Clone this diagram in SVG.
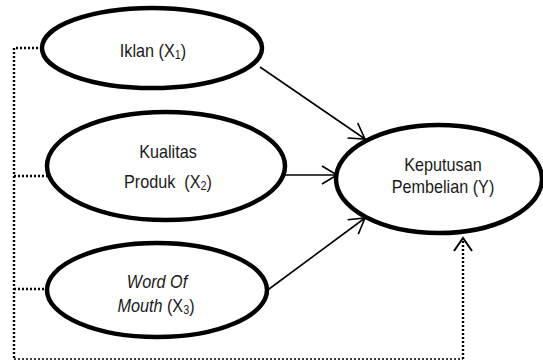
<svg xmlns="http://www.w3.org/2000/svg" width="543" height="362" viewBox="0 0 543 362">
<style>
.node ellipse{fill:#fff;stroke:#000;stroke-width:4.5}
.node text{font-family:"Liberation Sans",Arial,sans-serif;font-size:18px;fill:#1a1a1a;text-anchor:middle}
.sub{font-size:12px}
.arrow{stroke:#000;stroke-width:1.6;fill:none}
.dot{stroke:#000;stroke-width:2.4;fill:none;stroke-dasharray:2 2}
.dotb{stroke:#000;stroke-width:1.6;fill:none;stroke-dasharray:2 2}
</style>
<defs>
<marker id="ah" markerUnits="userSpaceOnUse" viewBox="-20 -12 24 24" markerWidth="24" markerHeight="24" refX="0" refY="0" orient="auto">
<path d="M-15,-9 L0,0 L-15,9" fill="none" stroke="#000" stroke-width="1.6"/>
</marker>
<marker id="ahd" markerUnits="userSpaceOnUse" viewBox="-20 -12 24 24" markerWidth="24" markerHeight="24" refX="0" refY="0" orient="auto">
<path d="M-13,-9 L0,0 L-13,9" fill="none" stroke="#000" stroke-width="2"/>
</marker>
</defs>
<g id="connectors">
<line class="arrow" x1="260" y1="67" x2="365" y2="139" marker-end="url(#ah)"/>
<line class="arrow" x1="285" y1="175" x2="337" y2="175" marker-end="url(#ah)"/>
<line class="arrow" x1="265" y1="292" x2="365" y2="218" marker-end="url(#ah)"/>
<polyline class="dot" points="42,48 14,48 14,359"/>
<line class="dot" x1="14" y1="176" x2="47" y2="176"/>
<line class="dot" x1="14" y1="289" x2="47" y2="289"/>
<polyline class="dotb" points="14,359 463,359"/>
<line class="dot" x1="463" y1="359" x2="463" y2="238" marker-end="url(#ahd)"/>
</g>
<g id="iklan" class="node">
<ellipse cx="152" cy="48" rx="110" ry="40"/>
<text transform="translate(153,57) scale(0.9,1)">Iklan (X<tspan class="sub" baseline-shift="-2">1</tspan>)</text>
</g>
<g id="kualitas" class="node">
<ellipse cx="166" cy="166" rx="119" ry="54"/>
<text transform="translate(168,158) scale(0.9,1)">Kualitas</text>
<text transform="translate(168,188) scale(0.9,1)" xml:space="preserve">Produk  (X<tspan class="sub" baseline-shift="-2">2</tspan>)</text>
</g>
<g id="wom" class="node">
<ellipse cx="157" cy="290" rx="110" ry="47"/>
<text transform="translate(157,288) scale(0.9,1)" font-style="italic">Word Of</text>
<text transform="translate(156,312) scale(0.9,1)"><tspan font-style="italic">Mouth</tspan> (X<tspan class="sub" baseline-shift="-2">3</tspan>)</text>
</g>
<g id="keputusan" class="node">
<ellipse cx="439" cy="179" rx="103" ry="54"/>
<text transform="translate(443,171) scale(0.9,1)">Keputusan</text>
<text transform="translate(443,193) scale(0.9,1)">Pembelian (Y)</text>
</g>
</svg>
